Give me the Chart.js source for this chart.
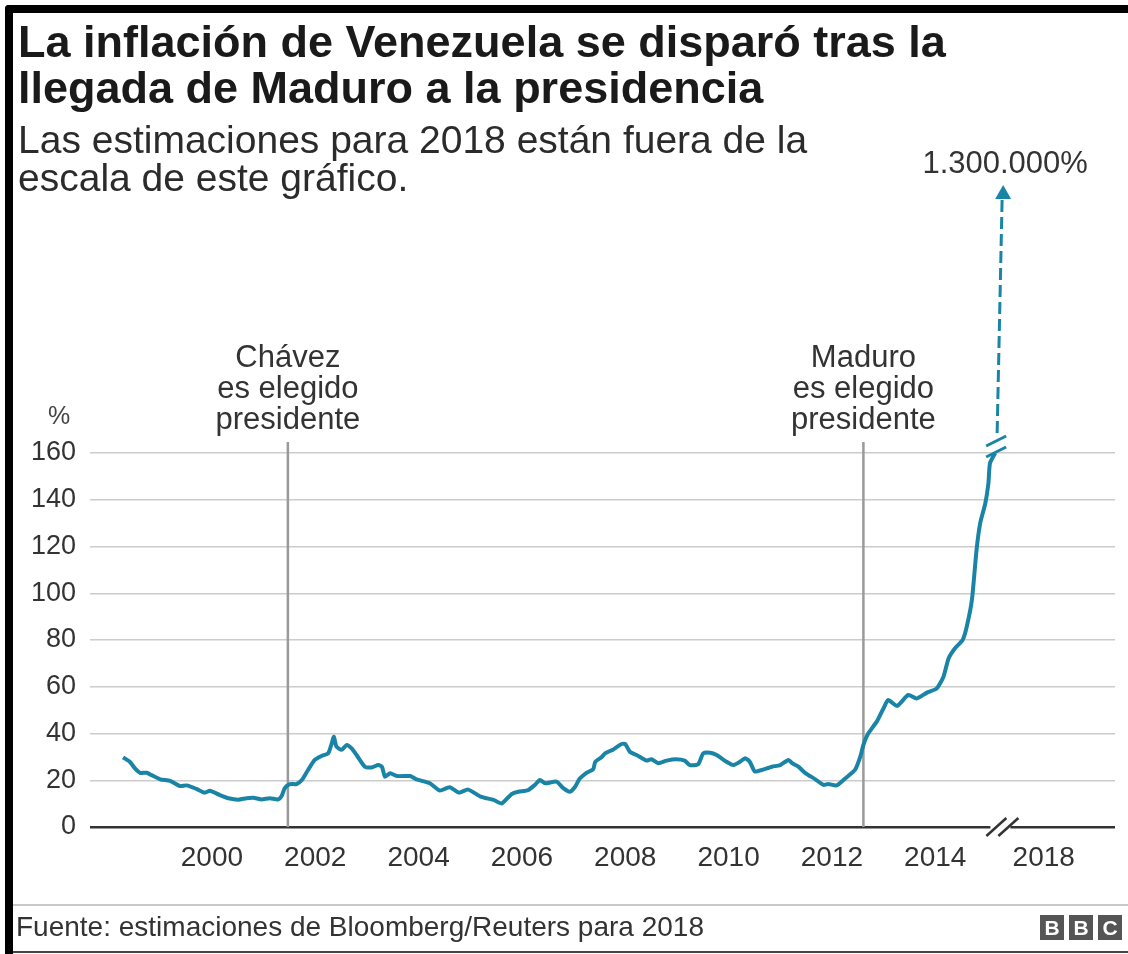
<!DOCTYPE html>
<html lang="es">
<head>
<meta charset="utf-8">
<title>Inflación en Venezuela</title>
<script src="https://cdn.jsdelivr.net/npm/chart.js@4.4.1/dist/chart.umd.min.js"></script>
<style>
  html, body { margin: 0; padding: 0; background: #fff; }
  body {
    width: 1128px; height: 954px; position: relative; overflow: hidden;
    font-family: "Liberation Sans", Arial, Helvetica, sans-serif;
  }
  #chart { position: absolute; left: 0; top: 0; }
  .frame-top { position: absolute; left: 5px; top: 5px; right: 0; height: 8px; background: #000; border-top-left-radius: 4px; }
  .frame-left { position: absolute; left: 5px; top: 5px; width: 8px; bottom: 0; background: #000; border-top-left-radius: 4px; }
  .frame-bottom { position: absolute; left: 13px; right: 0; top: 951px; height: 2px; background: #444; }
  h1 {
    position: absolute; left: 18px; top: 19px; margin: 0;
    font-size: 45px; line-height: 46px; font-weight: bold; color: #1a1a1a;
  }
  .subtitle {
    position: absolute; left: 18px; top: 121px; margin: 0;
    font-size: 39px; line-height: 38px; color: #2b2b2b;
  }
  .rule { position: absolute; left: 13px; right: 0; top: 904px; height: 2px; background: #c8c8c8; }
  .source { position: absolute; left: 16px; top: 912px; font-size: 28px; line-height: 30px; color: #333; }
  .bbc { position: absolute; left: 1040px; top: 915px; display: flex; gap: 5px; }
  .bbc span {
    width: 24px; height: 25px; background: #555; color: #fff;
    font-weight: bold; font-size: 21px; line-height: 25px; text-align: center;
  }
</style>
</head>
<body>
<canvas id="chart" width="1128" height="954"></canvas>
<div class="frame-top"></div>
<div class="frame-left"></div>
<div class="frame-bottom"></div>
<h1>La inflación de Venezuela se disparó tras la<br>llegada de Maduro a la presidencia</h1>
<p class="subtitle">Las estimaciones para 2018 están fuera de la<br>escala de este gráfico.</p>
<div class="rule"></div>
<div class="source">Fuente: estimaciones de Bloomberg/Reuters para 2018</div>
<div class="bbc"><span>B</span><span>B</span><span>C</span></div>

<script>
// Annual inflation (%), monthly-ish readings as decimal years
const years = [
  1998.28, 1998.41, 1998.51, 1998.61, 1998.74, 1998.83, 1999.00, 1999.19, 1999.38, 1999.51,
  1999.70, 1999.86, 1999.96, 2000.15, 2000.32, 2000.51, 2000.67, 2000.80, 2000.96, 2001.12,
  2001.28, 2001.35, 2001.41, 2001.51, 2001.64, 2001.74, 2001.86, 2001.99, 2002.12, 2002.25,
  2002.31, 2002.36, 2002.41, 2002.51, 2002.61, 2002.70, 2002.80, 2002.96, 2003.09, 2003.22,
  2003.29, 2003.35, 2003.45, 2003.58, 2003.84, 2003.96, 2004.22, 2004.41, 2004.60, 2004.78,
  2004.96, 2005.20, 2005.45, 2005.61, 2005.80, 2005.93, 2006.12, 2006.25, 2006.35, 2006.45,
  2006.67, 2006.80, 2006.93, 2007.03, 2007.12, 2007.25, 2007.38, 2007.42, 2007.54, 2007.61,
  2007.77, 2007.93, 2008.00, 2008.09, 2008.22, 2008.41, 2008.51, 2008.64, 2008.80, 2008.99,
  2009.15, 2009.25, 2009.41, 2009.51, 2009.64, 2009.77, 2009.96, 2010.09, 2010.22, 2010.32,
  2010.41, 2010.51, 2010.64, 2010.84, 2011.00, 2011.16, 2011.23, 2011.35, 2011.48, 2011.68,
  2011.84, 2011.93, 2012.09, 2012.27, 2012.45, 2012.55, 2012.61, 2012.69, 2012.88, 2013.00,
  2013.09, 2013.26, 2013.48, 2013.64, 2013.84, 2014.03, 2014.16, 2014.26, 2014.38, 2014.53,
  2014.61, 2014.71, 2014.80, 2014.87, 2014.97, 2015.03, 2015.06, 2015.16
];
const inflation = [
  29.8, 27.9, 25.1, 23.2, 23.2, 22.2, 20.4, 19.7, 17.5, 17.8,
  16.3, 14.7, 15.5, 13.7, 12.3, 11.7, 12.3, 12.5, 11.8, 12.3,
  11.8, 13.3, 16.6, 18.3, 18.4, 20.1, 24.4, 28.7, 30.4, 31.5,
  35.1, 38.6, 34.4, 33.0, 35.1, 33.7, 30.8, 25.8, 25.5, 26.5,
  25.8, 21.5, 23.0, 21.8, 21.8, 20.4, 18.7, 15.6, 17.0, 14.7,
  16.0, 13.0, 11.6, 10.1, 14.1, 15.1, 15.8, 18.0, 20.1, 18.7,
  19.4, 16.6, 15.1, 17.2, 20.7, 23.2, 24.7, 27.9, 29.8, 31.5,
  33.2, 35.5, 35.5, 32.2, 30.8, 28.4, 29.0, 27.3, 28.4, 29.0,
  28.4, 26.5, 26.8, 31.5, 31.8, 30.8, 27.9, 26.5, 27.9, 29.4,
  27.9, 23.7, 24.4, 25.8, 26.5, 28.7, 27.3, 25.8, 23.2, 20.4,
  18.0, 18.4, 17.8, 21.0, 24.5, 30.1, 35.1, 39.5, 45.5, 50.8,
  54.3, 51.8, 56.5, 55.0, 57.5, 59.3, 64.3, 72.2, 76.4, 80.0,
  85.7, 97.1, 118.5, 129.9, 138.5, 147.1, 155.6, 160.0
];

const yearLabels = ['2000', '2002', '2004', '2006', '2008', '2010', '2012', '2014', '2018'];
const yTicks = [0, 20, 40, 60, 80, 100, 120, 140, 160];

const events = [
  { year: 2001.47, lines: ['Chávez', 'es elegido', 'presidente'] },
  { year: 2012.61, lines: ['Maduro', 'es elegido', 'presidente'] }
];
const offScaleLabel = '1.300.000%';

// axis break: years past the break are pulled left by hiddenSpan
const breakYear = 2015.3;
const hiddenSpan = 1.9;
const tickPos = (label) => (+label > breakYear ? +label - hiddenSpan : +label);

const teal = '#1a84a6';
const font = '"Liberation Sans", Arial, sans-serif';

const overlay = {
  id: 'overlay',
  beforeDatasetsDraw(chart) {
    const { ctx, chartArea, scales: { x } } = chart;
    const lineTop = chartArea.top - 11;
    ctx.save();
    events.forEach(ev => {
      const px = x.getPixelForValue(ev.year);
      ctx.strokeStyle = '#9a9a9a';
      ctx.lineWidth = 2.5;
      ctx.beginPath();
      ctx.moveTo(px, lineTop);
      ctx.lineTo(px, chartArea.bottom);
      ctx.stroke();

      ctx.fillStyle = '#333';
      ctx.font = '31px ' + font;
      ctx.textAlign = 'center';
      ctx.textBaseline = 'middle';
      const n = ev.lines.length;
      ev.lines.forEach((t, i) => {
        ctx.fillText(t, px, lineTop - 22 - (n - 1 - i) * 31);
      });
    });

    // unit label above the y ticks
    ctx.fillStyle = '#444';
    ctx.font = '25px ' + font;
    ctx.textAlign = 'center';
    ctx.fillText('%', chartArea.left - 31, chartArea.top - 36);
    ctx.restore();
  },
  afterDatasetsDraw(chart) {
    const { ctx, chartArea, scales: { x } } = chart;
    const meta = chart.getDatasetMeta(0);
    const last = meta.data[meta.data.length - 1];
    ctx.save();

    // break on the x axis
    const bx = x.getPixelForValue(breakYear);
    const by = chartArea.bottom;
    ctx.fillStyle = '#fff';
    ctx.fillRect(bx - 12, by - 6, 20, 12);
    ctx.strokeStyle = '#333';
    ctx.lineWidth = 2.5;
    [-6, 6].forEach(dx => {
      ctx.beginPath();
      ctx.moveTo(bx + dx - 10, by + 9);
      ctx.lineTo(bx + dx + 10, by - 9);
      ctx.stroke();
    });

    // break on the series, then dashed arrow to the off-scale value
    const ex = last.x, ey = last.y;
    ctx.strokeStyle = teal;
    ctx.lineWidth = 3;
    [-1, -12].forEach(dy => {
      ctx.beginPath();
      ctx.moveTo(ex - 9, ey + dy + 5);
      ctx.lineTo(ex + 11, ey + dy - 5);
      ctx.stroke();
    });

    const tipY = 185;
    ctx.setLineDash([12, 5]);
    ctx.beginPath();
    ctx.moveTo(ex + 2, ey - 20);
    ctx.lineTo(ex + 7, tipY + 13);
    ctx.stroke();
    ctx.setLineDash([]);
    ctx.fillStyle = teal;
    ctx.beginPath();
    ctx.moveTo(ex + 8, tipY);
    ctx.lineTo(ex + 16, tipY + 14);
    ctx.lineTo(ex, tipY + 14);
    ctx.closePath();
    ctx.fill();

    ctx.fillStyle = '#333';
    ctx.font = '31px ' + font;
    ctx.textAlign = 'center';
    ctx.textBaseline = 'middle';
    ctx.fillText(offScaleLabel, ex + 10, tipY - 21);
    ctx.restore();
  }
};

new Chart(document.getElementById('chart'), {
  type: 'line',
  data: {
    datasets: [{
      data: years.map((yr, i) => ({ x: yr, y: inflation[i] })),
      borderColor: teal,
      borderWidth: 4,
      pointRadius: 0,
      tension: 0.2,
      fill: false,
      clip: 10
    }]
  },
  options: {
    responsive: false,
    devicePixelRatio: 1,
    animation: false,
    events: [],
    layout: { padding: { left: 12, right: 13, top: 453, bottom: 77 } },
    plugins: { legend: { display: false }, tooltip: { enabled: false } },
    scales: {
      x: {
        type: 'linear',
        min: 1997.64,
        max: 2017.48,
        afterBuildTicks: (scale) => {
          scale.ticks = yearLabels.map(l => ({ value: tickPos(l) }));
        },
        afterFit: (scale) => { scale.height = 50; },
        grid: { display: false, drawTicks: false },
        border: { display: false },
        ticks: {
          autoSkip: false,
          maxRotation: 0,
          padding: 14,
          color: '#333',
          font: { size: 28, family: font },
          callback: (value, i) => yearLabels[i]
        }
      },
      y: {
        min: 0,
        max: 160,
        afterBuildTicks: (scale) => {
          scale.ticks = yTicks.map(v => ({ value: v }));
        },
        afterFit: (scale) => { scale.width = 78; },
        grid: {
          drawTicks: false,
          color: (c) => (c.tick && c.tick.value === 0 ? '#333' : '#cccccc'),
          lineWidth: (c) => (c.tick && c.tick.value === 0 ? 2.5 : 1.5)
        },
        border: { display: false },
        ticks: {
          padding: 14,
          color: '#333',
          font: { size: 27, family: font }
        }
      }
    }
  },
  plugins: [overlay]
});
</script>
</body>
</html>
